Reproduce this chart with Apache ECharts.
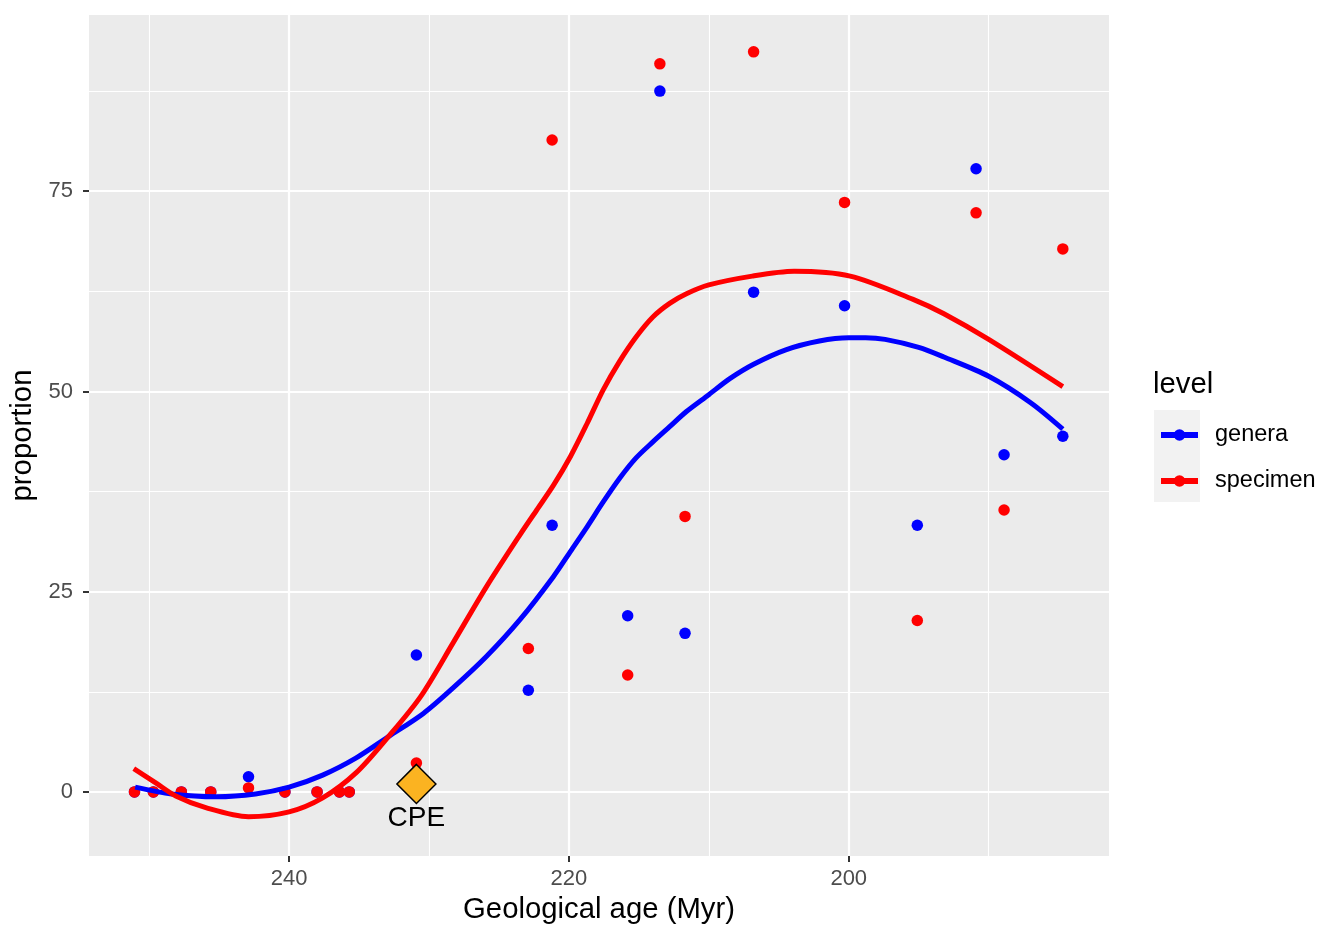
<!DOCTYPE html>
<html>
<head>
<meta charset="utf-8">
<title>Proportion through geological age</title>
<script src="https://cdn.jsdelivr.net/npm/echarts@6/dist/echarts.min.js"></script>
<style>
  html, body { margin: 0; padding: 0; background: #fff; }
  #chart { width: 1344px; height: 940px; }
</style>
</head>
<body>
<div id="chart"></div>
<script>
// Sampled ages (Myr) shared by both point sets
const ages = [251.05, 249.7, 247.7, 245.6, 242.9, 240.3, 238.0, 236.4, 235.7, 230.9,
  222.9, 221.2, 215.8, 213.5, 211.7, 206.8, 200.3, 195.1, 190.9, 188.9, 184.7];

// Point values
const generaPts = [0, 0, 0, 0, 1.9, 0, 0, 0, 0, 17.1,
  12.7, 33.3, 22.0, 87.5, 19.8, 62.4, 60.7, 33.3, 77.8, 42.1, 44.4];
const specimenPts = [0, 0, 0, 0, 0.5, 0, 0, 0, 0, 3.6,
  17.9, 81.4, 14.6, 90.9, 34.4, 92.4, 73.6, 21.4, 72.3, 35.2, 67.8];

// Smoothed curves
const generaCurveAge = [251.0, 248.4, 245.2, 242.4, 240.0, 237.6, 235.2, 232.9, 230.4, 228.3,
  225.9, 223.5, 221.1, 219.9, 218.7, 217.55, 216.4, 215.2, 214.0, 212.8, 211.6, 210.0, 208.5,
  206.8, 204.5, 202.1, 200.0, 198.8, 197.4, 195.0, 193.2, 190.0, 187.0, 184.7];
const generaCurve = [0.6, -0.25, -0.6, -0.25, 0.6, 2.1, 4.25, 6.9, 9.8, 12.95,
  16.9, 21.5, 26.9, 30.0, 33.1, 36.2, 39.1, 41.7, 43.7, 45.6, 47.5, 49.6, 51.6,
  53.4, 55.2, 56.3, 56.7, 56.7, 56.5, 55.5, 54.3, 51.9, 48.6, 45.3];
const specimenCurveAge = [251.1, 249.5, 248.1, 245.9, 242.9, 240.0, 237.6, 235.2, 232.9, 230.6,
  228.3, 225.9, 223.5, 222.3, 221.1, 219.9, 218.7, 217.55, 216.4, 215.2, 214.0, 212.8, 211.6,
  210.0, 206.9, 203.9, 199.9, 195.4, 193.2, 190.0, 184.7];
const specimenCurve = [2.9, 1.1, -0.5, -2.0, -3.1, -2.5, -0.75, 2.4, 6.9, 11.9,
  18.55, 25.6, 32.1, 35.2, 38.3, 41.85, 46.0, 50.2, 53.7, 56.8, 59.3, 61.0, 62.2,
  63.3, 64.4, 65.0, 64.4, 61.5, 59.7, 56.5, 50.6];

// CPE marker
const cpeAge = [230.9];
const cpeValue = [1];
const cpeLabel = ['CPE'];

// Axis ticks
const xMajor = [200, 220, 240];
const xMinor = [190, 210, 230, 250];
const yMajor = [0, 25, 50, 75];
const yMinor = [12.5, 37.5, 62.5, 87.5];
const levels = ['genera', 'specimen'];

const FONT = "'Liberation Sans', Arial, Helvetica, sans-serif";
const COLORS = { genera: '#0000FF', specimen: '#FF0000' };

function pairs(xs, ys) {
  return xs.map((x, i) => [x, ys[i]]);
}

function curveSeries(name, xs, ys) {
  return {
    name: name,
    type: 'line',
    data: pairs(xs, ys),
    smooth: 0.3,
    symbol: 'circle',
    showSymbol: false,
    color: COLORS[name],
    lineStyle: { color: COLORS[name], width: 5 },
    emphasis: { disabled: true },
    silent: true
  };
}

function pointSeries(name, ys) {
  return {
    name: name,
    type: 'scatter',
    data: pairs(ages, ys),
    symbolSize: 11.5,
    itemStyle: { color: COLORS[name], opacity: 1 },
    emphasis: { disabled: true },
    silent: true
  };
}

function init() {
  const chart = echarts.init(document.getElementById('chart'));

  chart.setOption({
    animation: false,
    backgroundColor: '#fff',
    textStyle: { fontFamily: FONT },
    grid: {
      left: 89, right: 235, top: 15, bottom: 84,
      show: true, backgroundColor: '#EBEBEB', borderWidth: 0
    },
    xAxis: [{
      type: 'value', min: 181.4, max: 254.3, inverse: true,
      name: 'Geological age (Myr)', nameLocation: 'middle', nameGap: 39,
      nameTextStyle: { fontSize: 29.3, color: '#000', fontFamily: FONT },
      axisLine: { show: false, onZero: false },
      axisTick: { customValues: xMajor, length: 6, lineStyle: { color: '#333', width: 2 } },
      axisLabel: { customValues: xMajor, margin: 12, fontSize: 22, color: '#4D4D4D', fontFamily: FONT },
      splitLine: { show: true, lineStyle: { color: '#fff', width: 2.2 } }
    }, {
      type: 'value', min: 181.4, max: 254.3, inverse: true,
      axisLine: { show: false, onZero: false },
      axisTick: { show: false, customValues: xMinor },
      axisLabel: { show: false, customValues: xMinor },
      splitLine: { show: true, lineStyle: { color: '#fff', width: 1.1 } }
    }],
    yAxis: [{
      type: 'value', min: -8, max: 97,
      name: 'proportion', nameLocation: 'middle', nameGap: 44,
      nameTextStyle: { fontSize: 29.3, color: '#000', fontFamily: FONT },
      axisLine: { show: false, onZero: false },
      axisTick: { show: true, customValues: yMajor, length: 6, lineStyle: { color: '#333', width: 2 } },
      axisLabel: { customValues: yMajor, margin: 16, fontSize: 22, color: '#4D4D4D', fontFamily: FONT },
      splitLine: { show: true, lineStyle: { color: '#fff', width: 2.2 } }
    }, {
      type: 'value', min: -8, max: 97,
      axisLine: { show: false, onZero: false },
      axisTick: { show: false, customValues: yMinor },
      axisLabel: { show: false, customValues: yMinor },
      splitLine: { show: true, lineStyle: { color: '#fff', width: 1.1 } }
    }],
    legend: {
      data: levels,
      orient: 'vertical',
      left: 1158, top: 423, padding: 0,
      itemWidth: 37, itemHeight: 14.5, itemGap: 22,
      selectedMode: false,
      lineStyle: { width: 6 },
      textStyle: { fontSize: 23.5, color: '#000', fontFamily: FONT, padding: [0, 0, 0, 12] }
    },
    graphic: [{
      type: 'rect', z: 0,
      shape: { x: 1154, y: 410, width: 46, height: 92 },
      style: { fill: '#F2F2F2' }
    }, {
      type: 'text', z: 5,
      x: 1153, y: 385,
      style: { text: 'level', fontSize: 29.3, fill: '#000', fontFamily: FONT, verticalAlign: 'middle' }
    }],
    series: [
      curveSeries('genera', generaCurveAge, generaCurve),
      curveSeries('specimen', specimenCurveAge, specimenCurve),
      pointSeries('genera', generaPts),
      pointSeries('specimen', specimenPts),
      {
        name: 'CPE',
        type: 'scatter',
        data: cpeAge.map((a, i) => ({ value: [a, cpeValue[i]], label: { formatter: cpeLabel[i] } })),
        symbol: 'diamond',
        symbolSize: 39,
        itemStyle: { color: '#FBB321', borderColor: '#000', borderWidth: 1.5, opacity: 1 },
        label: { show: true, position: 'bottom', distance: 0, fontSize: 28, color: '#000', fontFamily: FONT },
        emphasis: { disabled: true },
        silent: true
      }
    ]
  });
}

document.addEventListener('DOMContentLoaded', init);
</script>
</body>
</html>
